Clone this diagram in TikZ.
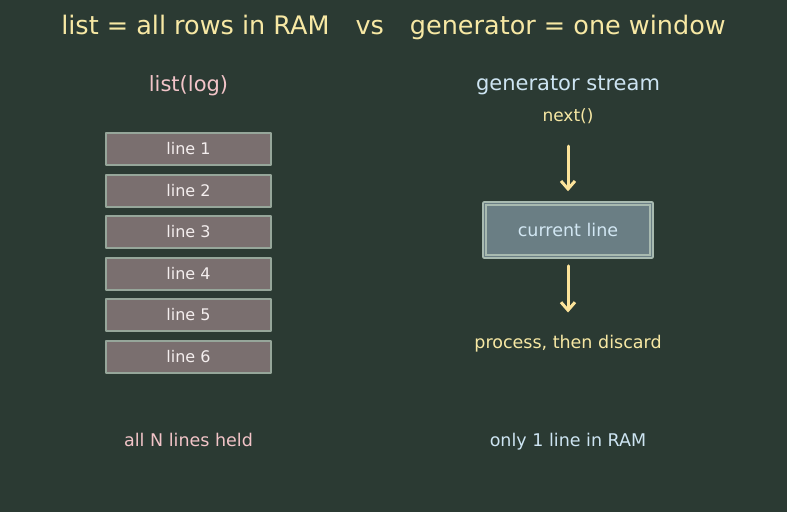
\documentclass[tikz,border=0pt]{standalone}
\usepackage{fontspec}
\setmainfont{DejaVu Sans}
\usetikzlibrary{arrows.meta}

\definecolor{bgdark}{HTML}{2B3A33}
\definecolor{titleyel}{HTML}{F7E8A4}
\definecolor{arrowyel}{HTML}{FCE39A}
\definecolor{listpink}{HTML}{F2C4C8}
\definecolor{genblue}{HTML}{CDE4F2}
\definecolor{rowfill}{HTML}{7A6F6F}
\definecolor{rowedge}{HTML}{96A69A}
\definecolor{curfill}{HTML}{6A7E84}
\definecolor{curedge}{HTML}{A8BAB0}
\definecolor{rowtext}{HTML}{F4EEEE}

\tikzset{
  rowbox/.style={draw=rowedge,fill=rowfill,line width=2pt,minimum width=165pt,
    minimum height=32pt,inner sep=0pt,text=rowtext,font=\fontsize{16}{19}\selectfont},
  curbox/.style={draw=curedge,fill=curfill,line width=2.5pt,double=curfill,minimum width=167pt,
    minimum height=53pt,inner sep=0pt,text=genblue!90!white,font=\fontsize{17.5}{21}\selectfont},
  flow/.style={-{Straight Barb[length=8pt,width=14pt,line width=3pt]},draw=arrowyel,line width=3pt,line cap=round}
}

\begin{document}
\begin{tikzpicture}[x=1pt,y=-1pt,>=Latex,line cap=round,line join=round]
  \fill[bgdark] (0,0) rectangle (787,512);
  \useasboundingbox (0,0) rectangle (787,512);

  \node[text=titleyel,font=\fontsize{25.5}{30}\selectfont] (title) at (393.5,27)
    {list = all rows in RAM\hspace{1.02em}vs\hspace{1.02em}generator = one window};

  % left: whole list in memory
  \node[text=listpink,font=\fontsize{21}{25}\selectfont] (listhead) at (188.5,85.5) {list(log)};
  \foreach \i in {1,...,6}
    \node[rowbox] (row\i) at (188.5,{149+41.5*(\i-1)}) {line \i};
  \node[text=listpink,font=\fontsize{17.5}{21}\selectfont] (listfoot) at (188.5,440) {all N lines held};

  % right: one item at a time
  \node[text=genblue,font=\fontsize{21}{25}\selectfont] (genhead) at (568,85.5) {generator stream};
  \node[text=titleyel,font=\fontsize{17}{20}\selectfont] (nextcall) at (568,116) {next()};
  \node[curbox] (current) at (568,230) {current line};
  \node[text=titleyel,font=\fontsize{17.5}{21}\selectfont] (discard) at (568,343.5) {process, then discard};
  \node[text=genblue,font=\fontsize{17.5}{21}\selectfont] (genfoot) at (568,441.5) {only 1 line in RAM};

  \draw[flow,shorten <=19pt,shorten >=11pt] (nextcall) -- (current);
  \draw[flow,shorten <=8pt,shorten >=19pt] (current) -- (discard);
\end{tikzpicture}
\end{document}
